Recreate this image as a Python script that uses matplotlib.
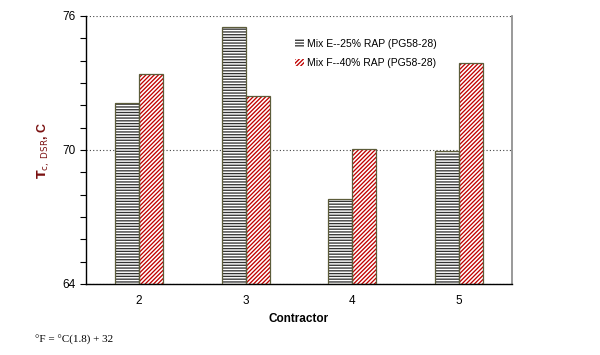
import numpy as np
import matplotlib.pyplot as plt

plt.rcParams['font.family'] = ['Liberation Sans', 'DejaVu Sans']
plt.rcParams['hatch.linewidth'] = 0.95

# data
contractors = ['2', '3', '4', '5']
mix_e = [72.1, 75.5, 67.8, 69.95]
mix_f = [73.4, 72.4, 70.05, 73.9]
labels = ['Mix E--25% RAP (PG58-28)', 'Mix F--40% RAP (PG58-28)']

x = np.arange(len(contractors))
w = 0.225

fig = plt.figure(figsize=(6, 3.55), dpi=100)
ax = fig.add_axes([0.143, 0.2, 0.71, 0.755])

edge = '#5c5c3a'
b1 = ax.bar(x - w/2, np.array(mix_e) - 64, w, bottom=64, color='white',
            edgecolor='#333333', hatch='------', linewidth=0, label=labels[0], zorder=2)
b2 = ax.bar(x + w/2, np.array(mix_f) - 64, w, bottom=64, color='white',
            edgecolor='#c00000', hatch='////////', linewidth=0, label=labels[1], zorder=2)
# outlines
ax.bar(x - w/2, np.array(mix_e) - 64, w, bottom=64, fill=False, edgecolor=edge, linewidth=0.9, zorder=3)
ax.bar(x + w/2, np.array(mix_f) - 64, w, bottom=64, fill=False, edgecolor=edge, linewidth=0.9, zorder=3)

ax.set_xlim(-0.5, 3.5)
ax.set_ylim(64, 76)
ax.set_xticks(x)
ax.set_xticklabels(contractors, fontsize=8.5)
ax.set_yticks([64, 70, 76])
ax.set_yticks(np.arange(64, 77, 1), minor=True)
ax.tick_params(axis='y', which='both', direction='out', length=4, width=0.8, labelsize=8.5)
ax.tick_params(axis='x', length=0, pad=8)
ax.yaxis.grid(True, which='major', linestyle=(0, (1, 2)), color='#444444', linewidth=0.8, zorder=0)

ax.spines['left'].set_linewidth(1.0)
ax.spines['bottom'].set_linewidth(1.0)
ax.spines['top'].set_visible(False)
ax.spines['right'].set_color('#888888')
ax.spines['right'].set_linewidth(1.2)

ax.set_xlabel('Contractor', fontsize=8.5, fontweight='bold', labelpad=4)
ax.set_ylabel(r'$\mathbf{T}_{\mathrm{c,\ DSR}}$, C', fontsize=9, fontweight='bold',
              color='#7a1010', labelpad=7)

leg = ax.legend(handles=[b1, b2], loc='upper left', bbox_to_anchor=(0.47, 0.95),
                frameon=False, fontsize=7.5, handlelength=0.8, handleheight=0.8,
                handletextpad=0.3, labelspacing=0.9)

fig.text(0.058, 0.035, '°F = °C(1.8) + 32', fontsize=8, family='Liberation Serif')

fig.savefig('out.png', dpi=100)
